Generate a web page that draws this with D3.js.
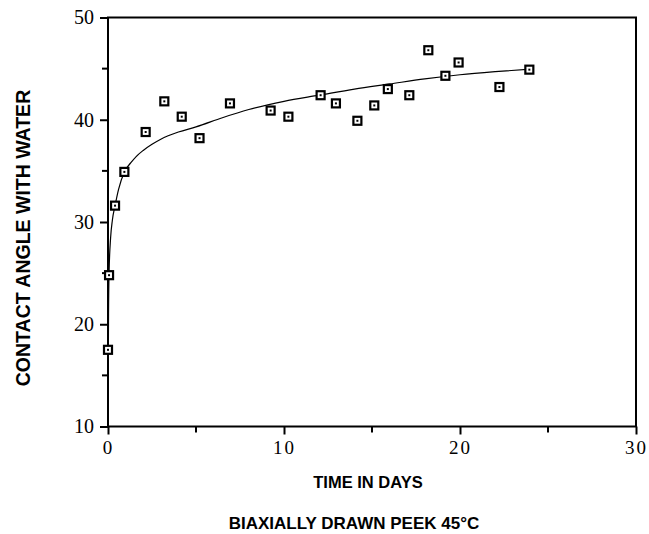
<!DOCTYPE html>
<html>
<head>
<meta charset="utf-8">
<script src="https://cdn.jsdelivr.net/npm/d3@7"></script>
<style>
  body { margin: 0; background: #fff; }
  svg { display: block; }
  .tick text { font-family: "Liberation Serif", "Times New Roman", Times, serif !important; }
</style>
</head>
<body>
<div id="chart"></div>
<script>
// measured points (days, contact angle)
const dayValues = [0.0, 0.06, 0.4, 0.93, 2.14, 3.2, 4.19, 5.2, 6.93, 9.24, 10.25, 12.08, 12.95, 14.17, 15.13, 15.9, 17.12, 18.2, 19.17, 19.92, 22.24, 23.94];
const angleValues = [17.5, 24.8, 31.6, 34.9, 38.8, 41.8, 40.3, 38.2, 41.6, 40.9, 40.3, 42.4, 41.6, 39.9, 41.4, 43.0, 42.4, 46.8, 44.3, 45.6, 43.2, 44.9];

// fitted curve
const fitDays = [0, 0.03, 0.06, 0.15, 0.25, 0.4, 0.6, 0.93, 1.3, 1.6, 2, 2.5, 3, 4, 5, 6.5, 8, 10, 12, 14, 16, 18, 20, 22, 24];
const fitAngles = [10, 21, 25, 28.5, 30.2, 31.6, 33.2, 34.9, 35.8, 36.4, 37.0, 37.6, 38.1, 38.8, 39.3, 40.2, 41.0, 41.8, 42.4, 43.0, 43.5, 44.0, 44.4, 44.7, 44.95];

const xTicks = [0, 10, 20, 30];
const xMinorTicks = [5, 15, 25];
const yTicks = [10, 20, 30, 40, 50];
const yMinorTicks = [15, 25, 35, 45];

const width = 649, height = 534;
const svg = d3.select("#chart").append("svg")
  .attr("width", width)
  .attr("height", height);

const x = d3.scaleLinear().domain([0, 30]).range([108, 636]);
const y = d3.scaleLinear().domain([10, 50]).range([426.5, 17.5]);

const tickFont = "'Liberation Serif', 'Times New Roman', Times, serif";
const labelFont = "'Liberation Sans', Arial, Helvetica, sans-serif";

// frame
svg.append("rect")
  .attr("x", x(0)).attr("y", y(50))
  .attr("width", x(30) - x(0)).attr("height", y(10) - y(50))
  .attr("fill", "none").attr("stroke", "#000").attr("stroke-width", 2);

//x axis
const xAxis = svg.append("g")
  .attr("transform", `translate(0,${y(10)})`)
  .call(d3.axisBottom(x).tickValues(xTicks).tickSize(8).tickSizeOuter(0).tickFormat(d3.format("d")))
  .attr("font-family", tickFont)
  .attr("font-size", 19);
xAxis.select(".domain").remove();
xAxis.selectAll("line").attr("stroke-width", 2);
xAxis.selectAll("text")
  .attr("y", 14).attr("dy", "0.71em")
  .style("letter-spacing", "2px").attr("fill", "#000");

svg.append("g").selectAll("line").data(xMinorTicks).join("line")
  .attr("x1", d => x(d)).attr("x2", d => x(d))
  .attr("y1", y(10)).attr("y2", y(10) + 6)
  .attr("stroke", "#000").attr("stroke-width", 2);

// y axis
const yAxis = svg.append("g")
  .attr("transform", `translate(${x(0)},0)`)
  .call(d3.axisLeft(y).tickValues(yTicks).tickSize(8).tickSizeOuter(0).tickFormat(d3.format("d")))
  .attr("font-family", tickFont)
  .attr("font-size", 20);
yAxis.select(".domain").remove();
yAxis.selectAll("line").attr("stroke-width", 2);
yAxis.selectAll("text")
  .attr("x", -14)
  .attr("fill", "#000");

svg.append("g").selectAll("line").data(yMinorTicks).join("line")
  .attr("x1", x(0) - 6).attr("x2", x(0))
  .attr("y1", d => y(d)).attr("y2", d => y(d))
  .attr("stroke", "#000").attr("stroke-width", 2);

// fitted curve
const line = d3.line()
  .x((d, i) => x(fitDays[i]))
  .y(d => y(d))
  .curve(d3.curveMonotoneX);

svg.append("path")
  .attr("d", line(fitAngles))
  .attr("fill", "none")
  .attr("stroke", "#000")
  .attr("stroke-width", 1.2);

// markers
const pts = svg.append("g").selectAll("g").data(angleValues).join("g")
  .attr("transform", (d, i) => `translate(${x(dayValues[i])},${y(d)})`);
pts.append("rect")
  .attr("x", -4).attr("y", -4).attr("width", 8).attr("height", 8)
  .attr("fill", "#fff").attr("stroke", "#000").attr("stroke-width", 2.2);
pts.append("rect")
  .attr("x", -1).attr("y", -1).attr("width", 2).attr("height", 2)
  .attr("fill", "#000");

// labels
svg.append("text")
  .attr("x", 368).attr("y", 488)
  .attr("text-anchor", "middle")
  .style("font-family", labelFont).style("font-weight", "bold").style("font-size", "16.5px")
  .text("TIME IN DAYS");

svg.append("text")
  .attr("transform", "translate(30,238) rotate(-90)")
  .attr("text-anchor", "middle")
  .style("font-family", labelFont).style("font-weight", "bold").style("font-size", "19.5px")
  .text("CONTACT ANGLE WITH WATER");

svg.append("text")
  .attr("x", 354).attr("y", 529)
  .attr("text-anchor", "middle")
  .style("font-family", labelFont).style("font-weight", "bold").style("font-size", "17px")
  .text("BIAXIALLY DRAWN PEEK 45°C");
</script>
</body>
</html>
